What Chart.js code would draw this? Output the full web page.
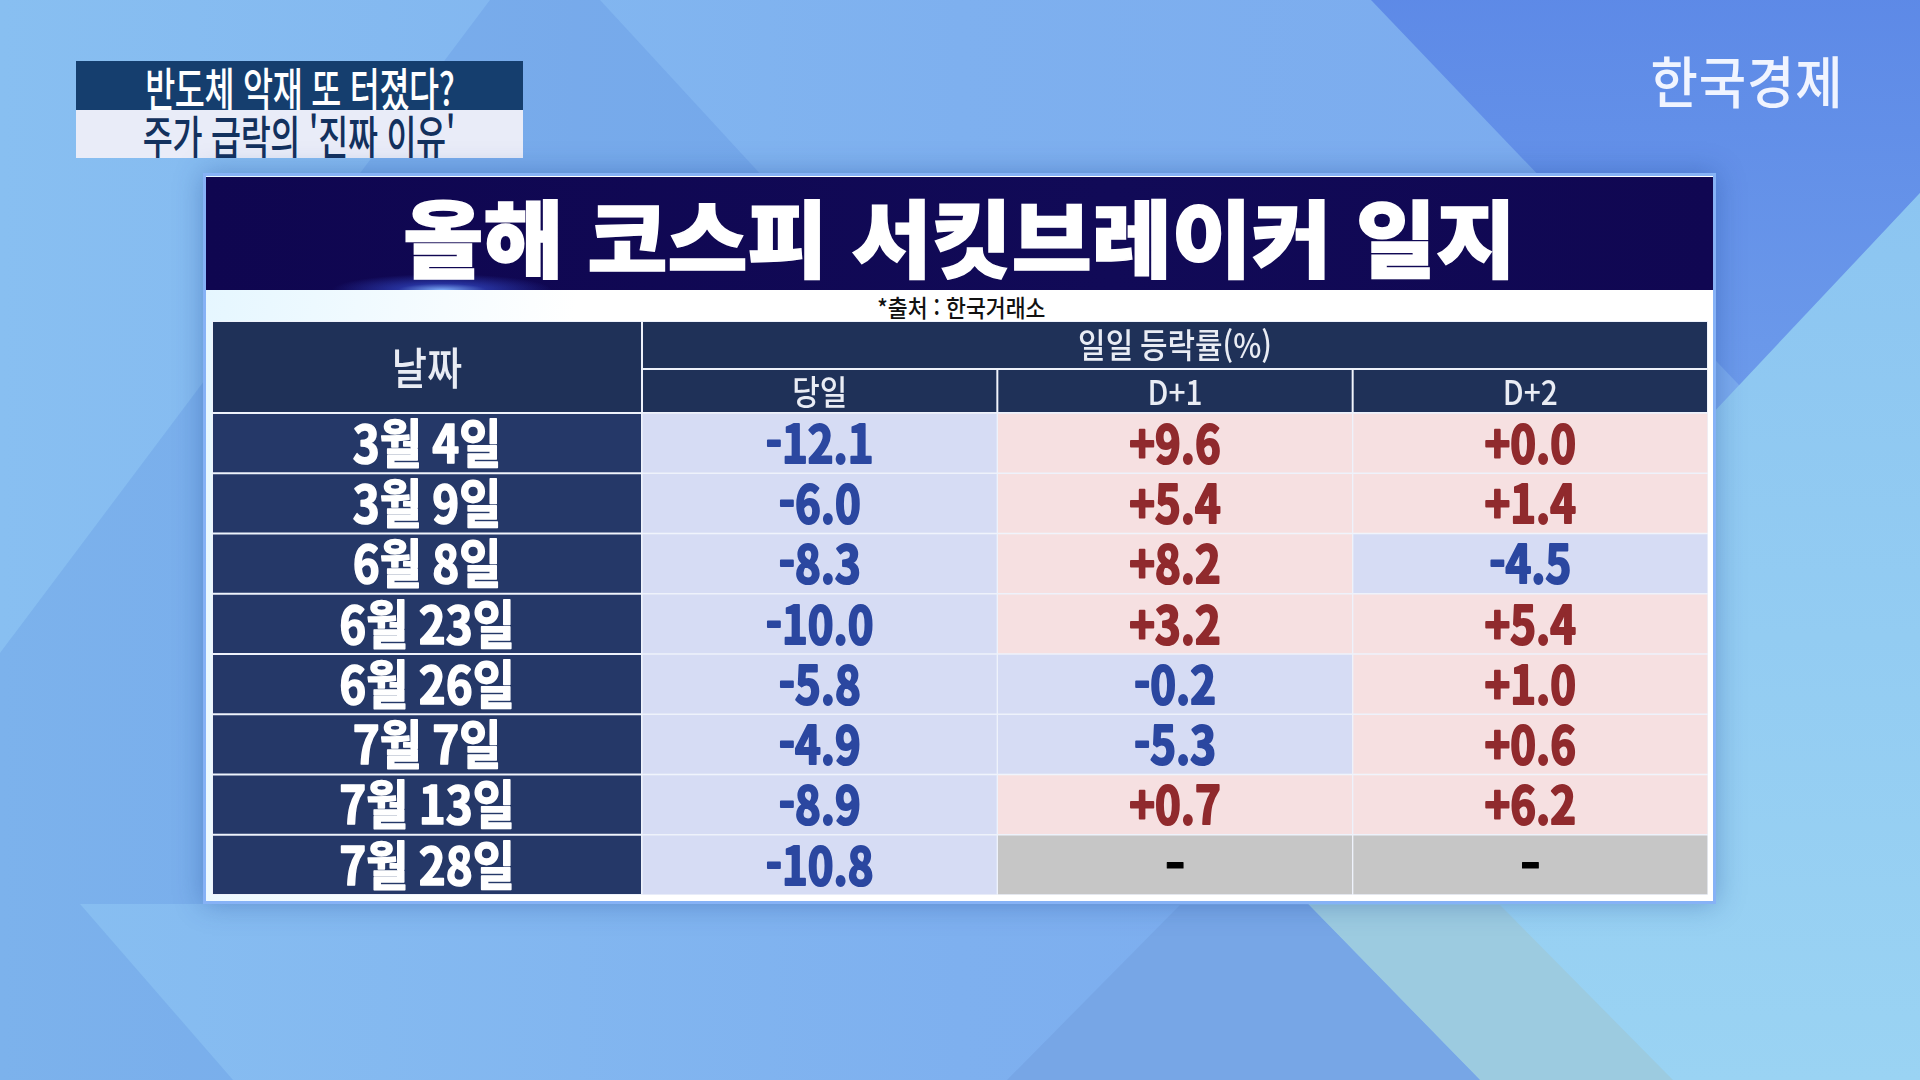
<!DOCTYPE html>
<html lang="ko">
<head>
<meta charset="utf-8">
<script src="https://cdn.jsdelivr.net/npm/chart.js@4.4.1/dist/chart.umd.min.js"></script>
<style>
  html, body { margin: 0; padding: 0; width: 1920px; height: 1080px; overflow: hidden; }
  body { position: relative; font-family: "Noto Sans CJK KR", sans-serif; background: #80b3ef; }
  #bg { position: absolute; left: 0; top: 0; }
  .cap { position: absolute; left: 76px; width: 447px; display: flex; align-items: center; justify-content: center; overflow: hidden; }
  .cap span { display: inline-block; font-size: 46px; font-weight: 500; transform: scaleX(0.71); white-space: nowrap; letter-spacing: -0.5px; line-height: 1; }
  #cap1 { top: 61px; height: 49px; background: #153e6e; color: #ffffff; }
  #cap2 { top: 110px; height: 48px; background: #e9ecf8; color: #13315e; }
  #logo { position: absolute; left: 1620px; top: 42px; width: 255px; height: 74px; display: flex; align-items: center; justify-content: center; }
  #logo span { font-size: 56px; font-weight: 500; color: #f0f4ff; transform: scaleX(0.92); white-space: nowrap; letter-spacing: 1px; line-height: 1; }
  #panel { position: absolute; left: 203px; top: 173px; width: 1513px; height: 731px; box-sizing: border-box;
           border: 3px solid #86b2f6; background: linear-gradient(100deg, #e4f6ff 0%, #ffffff 24%);
           box-shadow: 0 0 26px rgba(20, 60, 140, 0.35); }
  #title { position: absolute; left: 206px; top: 177px; width: 1507px; height: 113px;
           background: radial-gradient(ellipse 110px 16px at 236px 100%, rgba(130,180,255,0.95) 0%, rgba(60,90,230,0.5) 40%, rgba(16,8,84,0) 100%),
                       linear-gradient(90deg, #0f0650 0%, #110a57 60%, #100752 100%);
           display: flex; align-items: center; justify-content: center; }
  #title span { display: inline-block; font-size: 84px; font-weight: 900; color: #ffffff; white-space: nowrap; line-height: 1; margin-top: 2px;
                transform: scaleX(1.035); -webkit-text-stroke: 1.5px #ffffff; }
  #source { position: absolute; left: 761px; top: 290px; width: 400px; height: 32px; display: flex; align-items: center; justify-content: center; }
  #source span { font-size: 24px; font-weight: 500; color: #111111; transform: scaleX(0.9); white-space: nowrap; }
  #chart { position: absolute; left: 0; top: 0; }
</style>
</head>
<body>
<svg id="bg" width="1920" height="1080" xmlns="http://www.w3.org/2000/svg">
  <defs>
    <linearGradient id="g0" x1="0" y1="0" x2="1" y2="0">
      <stop offset="0" stop-color="#88bff1"/>
      <stop offset="0.5" stop-color="#7eb0ef"/>
      <stop offset="1" stop-color="#7aa9ee"/>
    </linearGradient>
    <linearGradient id="gtr" x1="0" y1="0" x2="0" y2="1">
      <stop offset="0" stop-color="#5a86e6"/>
      <stop offset="1" stop-color="#6a98ea"/>
    </linearGradient>
    <linearGradient id="gcy" x1="0" y1="0" x2="0" y2="1">
      <stop offset="0" stop-color="#8cc5f1"/>
      <stop offset="1" stop-color="#9ad3f3"/>
    </linearGradient>
  </defs>
  <rect width="1920" height="1080" fill="url(#g0)"/>
  <polygon points="490,0 600,0 1300,760 1200,904 80,904 233,1080 0,1080 0,653" fill="#3d6fd6" opacity="0.16"/>
  <polygon points="1371,0 1920,0 1920,193 1740,386" fill="url(#gtr)" opacity="0.9"/>
  <polygon points="1920,193 1920,1080 1480,1080 1279,874" fill="url(#gcy)"/>
  <polygon points="1309,905 1500,905 1673,1080 1480,1080" fill="#9ccbe0"/>
  <polygon points="1180,905 1309,905 1480,1080 1007,1080" fill="#77a6e6"/>
</svg>

<div id="cap1" class="cap"><span>반도체 악재 또 터졌다?</span></div>
<div id="cap2" class="cap"><span>주가 급락의 '진짜 이유'</span></div>
<div id="logo"><span>한국경제</span></div>

<div id="panel"></div>
<div id="title"><span>올해 코스피 서킷브레이커 일지</span></div>
<div id="source"><span>*출처 : 한국거래소</span></div>

<canvas id="chart" width="1920" height="1080"></canvas>

<script>
// ---------------- DATA ----------------
const dates   = ['3월 4일', '3월 9일', '6월 8일', '6월 23일', '6월 26일', '7월 7일', '7월 13일', '7월 28일'];
const columns = ['당일', 'D+1', 'D+2'];
const dayOf   = [-12.1, -6.0, -8.3, -10.0, -5.8, -4.9, -8.9, -10.8];
const dPlus1  = [9.6, 5.4, 8.2, 3.2, -0.2, -5.3, 0.7, null];
const dPlus2  = [0.0, 1.4, -4.5, 5.4, 1.0, 0.6, 6.2, null];
const dateHeader  = '날짜';
const groupHeader = '일일 등락률(%)';

// ---------------- STYLE ----------------
const FONT = '"Noto Sans CJK KR", sans-serif';
const GRID = '#eef2fb';
const HEADER_BG = '#1f3158';
const DATE_BG = '#253868';
const NEG_BG = '#d6dcf4', POS_BG = '#f6e0e1', NA_BG = '#c6c6c6';
const NEG_TXT = '#2b47a0', POS_TXT = '#902a2d', NA_TXT = '#000000';
const HEADER_ROW1 = 48, HEADER_ROW2 = 44, DATE_COL_W = 430;

const columnValues = [dayOf, dPlus1, dPlus2];
const cellColor = v => v === null ? NA_BG : (v >= 0 ? POS_BG : NEG_BG);
const textColor = v => v === null ? NA_TXT : (v >= 0 ? POS_TXT : NEG_TXT);
const fmt = v => v === null ? '-' : (v >= 0 ? '+' : '-') + Math.abs(v).toFixed(1);

function drawText(ctx, txt, x, y, font, color, sx, stroke) {
  ctx.save();
  ctx.font = font;
  ctx.fillStyle = color;
  ctx.textAlign = 'center';
  ctx.textBaseline = 'middle';
  ctx.translate(x, y);
  ctx.scale(sx, 1);
  if (stroke) {
    ctx.lineWidth = stroke;
    ctx.lineJoin = 'round';
    ctx.strokeStyle = color;
    ctx.strokeText(txt, 0, 0);
  }
  ctx.fillText(txt, 0, 0);
  ctx.restore();
}
function cell(ctx, x0, y0, x1, y1, color, bw) {
  ctx.fillStyle = GRID;
  ctx.fillRect(x0, y0, x1 - x0, y1 - y0);
  ctx.fillStyle = color;
  ctx.fillRect(x0 + bw, y0 + bw, x1 - x0 - 2 * bw, y1 - y0 - 2 * bw);
}

const tablePlugin = {
  id: 'tablePlugin',
  beforeDraw(chart) {
    const ctx = chart.ctx, ca = chart.chartArea;
    const xS = chart.scales.x, yS = chart.scales.y;
    const left = yS.left, top = ca.top - HEADER_ROW1 - HEADER_ROW2, split = top + HEADER_ROW1;
    const band = yS.getPixelForValue(1) - yS.getPixelForValue(0);
    // header: date header spanning both header rows
    cell(ctx, left, top, ca.left, ca.top, HEADER_BG, 1);
    drawText(ctx, dateHeader, (left + ca.left) / 2, (top + ca.top) / 2 + 1, `500 44px ${FONT}`, '#e9ecf4', 0.87);
    // group header
    cell(ctx, ca.left, top, ca.right, split, HEADER_BG, 1);
    drawText(ctx, groupHeader, (ca.left + ca.right) / 2, (top + split) / 2, `500 34px ${FONT}`, '#e9ecf4', 0.88);
    // sub headers
    columns.forEach((c, i) => {
      const x0 = xS.getPixelForValue(i), x1 = xS.getPixelForValue(i + 1);
      cell(ctx, x0, split, x1, ca.top, HEADER_BG, 1);
      drawText(ctx, c, (x0 + x1) / 2, (split + ca.top) / 2 + 1, `500 34px ${FONT}`, '#e9ecf4', 0.88);
    });
    // date column
    dates.forEach((d, i) => {
      const yc = yS.getPixelForValue(i);
      cell(ctx, left, yc - band / 2, ca.left, yc + band / 2, DATE_BG, 1);
      drawText(ctx, d, (left + ca.left) / 2, yc, `bold 52px ${FONT}`, '#ffffff', 0.88, 1.6);
    });
  },
  afterDatasetsDraw(chart) {
    const ctx = chart.ctx;
    chart.data.datasets.forEach((ds, d) => {
      const meta = chart.getDatasetMeta(d);
      meta.data.forEach((bar, i) => {
        const v = columnValues[d][i];
        const cx = (bar.x + bar.base) / 2;
        drawText(ctx, fmt(v), cx, bar.y, `bold 52px ${FONT}`, textColor(v), v === null ? 1.1 : 0.84, v === null ? 1 : 2.2);
      });
    });
  }
};

function makeChart() {
  new Chart(document.getElementById('chart'), {
    type: 'bar',
    data: {
      labels: dates,
      datasets: columnValues.map((vals, c) => ({
        label: columns[c],
        data: vals.map(() => [c, c + 1]),
        backgroundColor: vals.map(cellColor),
        borderColor: GRID,
        borderWidth: 1,
        borderSkipped: false,
        grouped: false,
        barPercentage: 1,
        categoryPercentage: 1
      }))
    },
    options: {
      indexAxis: 'y',
      responsive: false,
      animation: false,
      devicePixelRatio: 1,
      layout: { padding: { left: 212, right: 212, top: 413, bottom: 185 } },
      plugins: { legend: { display: false }, tooltip: { enabled: false } },
      scales: {
        x: { type: 'linear', min: 0, max: columns.length, display: false },
        y: {
          type: 'category',
          display: true,
          grid: { display: false, drawTicks: false },
          border: { display: false },
          ticks: { display: false },
          afterFit(s) { s.width = DATE_COL_W; }
        }
      }
    },
    plugins: [tablePlugin]
  });
}

const loads = [
  document.fonts.load(`bold 52px "Noto Sans CJK KR"`, '3월 4일'),
  document.fonts.load(`500 34px "Noto Sans CJK KR"`, '일일 등락률'),
  document.fonts.load(`900 84px "Noto Sans CJK KR"`, '올해')
];
Promise.all(loads).then(makeChart, makeChart);
</script>
</body>
</html>
